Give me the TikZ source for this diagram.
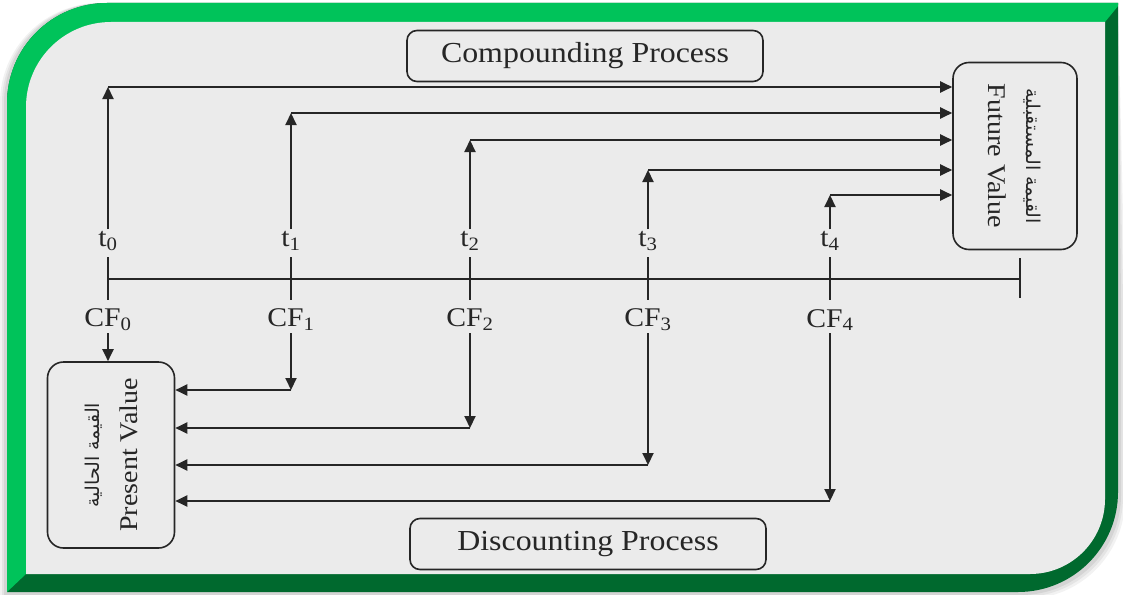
\documentclass[tikz,border=0pt]{standalone}
\usepackage{fontspec}
\setmainfont{Liberation Serif}[FakeStretch=1.1]
\newfontfamily\arabicfont[Script=Arabic]{DejaVu Sans}
\TeXXeTstate=1
\usepackage{tikz}
\usetikzlibrary{arrows.meta, calc, positioning}
\usepackage{xcolor}

\definecolor{framelight}{HTML}{00C35A}
\definecolor{framedark}{HTML}{00692E}
\definecolor{panelgray}{HTML}{EBEBEB}
\definecolor{inkgray}{HTML}{262626}

\tikzset{
  flow/.style={line width=2pt, draw=inkgray, -{Triangle[length=12pt,width=11pt]}},
  link/.style={line width=1.8pt, draw=inkgray},
  valuebox/.style={draw=inkgray, line width=1.6pt, rounded corners=16pt,
    align=center, inner sep=0pt, text=inkgray,
    font=\fontsize{25.5}{38}\selectfont},
  titlebox/.style={draw=inkgray, line width=1.6pt, rounded corners=10pt,
    minimum width=356pt, minimum height=51pt, text=inkgray,
    font=\fontsize{29}{32}\selectfont},
  timelabel/.style={font=\fontsize{27}{30}\selectfont, text=inkgray, inner sep=2pt}
}

\begin{document}
\begin{tikzpicture}[x=1pt, y=-1pt]
\useasboundingbox (0,0) rectangle (1123,594);

% soft shadow
\foreach \s/\o in {7/0.05,5/0.06,3/0.07} {
  \fill[black, opacity=\o] (7-\s,592+\s) -- (7-\s,200) [rounded corners=100pt] -- (7-\s,3) -- (300,3) [sharp corners]
    -- (1118,3) -- (1118+\s,300) [rounded corners=100pt] -- (1118+\s,592+\s) -- (800,592+\s) [sharp corners] -- cycle;
}

% green frame
\begin{scope}
  \clip (7,592) -- (7,200) [rounded corners=100pt] -- (7,3) -- (300,3) [sharp corners]
    -- (1118,3) -- (1118,300) [rounded corners=100pt] -- (1118,592) -- (800,592) [sharp corners] -- cycle;
  \fill[framedark] (0,0) rectangle (1123,594);
  \fill[framelight] (7,592) -- (26,574) -- (1105,22) -- (1123,0) -- (0,0) -- cycle;
\end{scope}
\fill[panelgray] (26,574) -- (26,200) [rounded corners=85pt] -- (26,22) -- (300,22) [sharp corners]
  -- (1105,22) -- (1105,300) [rounded corners=75pt] -- (1105,574) -- (800,574) [sharp corners] -- cycle;

% value boxes
\node[valuebox, rotate=-90, minimum width=187pt, minimum height=124pt] (fv) at (1015,156)
  {{\arabicfont\fontsize{19}{38}\selectfont\beginR القيمة المستقبلية\endR}\\Future Value};
\node[valuebox, rotate=90, minimum width=186pt, minimum height=127pt] (pv) at (111,455)
  {{\arabicfont\fontsize{19}{38}\selectfont\beginR القيمة الحالية\endR}\\Present Value};

% process titles
\node[titlebox] (comp) at (585,56) {Compounding Process};
\node[titlebox] (disc) at (588,544) {Discounting Process};

% time line
\coordinate (start) at (108,279);
\coordinate (end) at (1020,279);
\draw[link] (start) -- (end);
\draw[link] ($(end)+(0,-21)$) -- ($(end)+(0,19)$);
\foreach \i/\x in {0/108,1/291,2/470,3/648,4/830} {
  \coordinate (tick\i) at (\x,279);
  \draw[link] ($(tick\i)+(0,-22)$) -- ($(tick\i)+(0,21)$);
  \node[timelabel] (t\i) at (\x,241) {t\textsubscript{\i}};
  \node[timelabel] (cf\i) at (\x,320) {CF\textsubscript{\i}};
}

% compounding arrows
\foreach \i/\y in {0/87,1/113,2/140,3/170,4/195} {
  \draw[flow] (t\i.north) -- (t\i.north |- 0,\y) coordinate (up\i);
  \draw[flow] (up\i) -- (up\i -| fv.south);
}

% discounting arrows
\draw[flow] (cf0.south) -- (cf0.south |- pv.east);
\foreach \i/\y in {1/390,2/428,3/465,4/501} {
  \draw[flow] (cf\i.south) -- (cf\i.south |- 0,\y) coordinate (dn\i);
  \draw[flow] (dn\i) -- (dn\i -| pv.south);
}
\end{tikzpicture}
\end{document}
